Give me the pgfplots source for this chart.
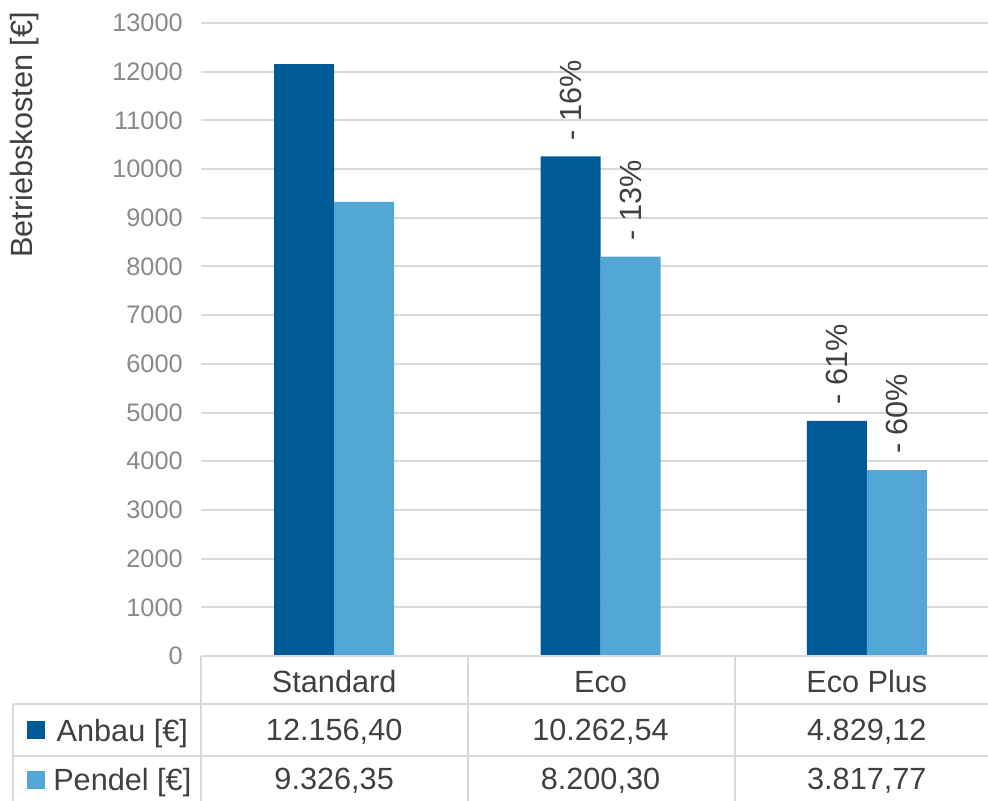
\documentclass[border=0pt]{standalone}
\usepackage{fontspec}
\setmainfont{Liberation Sans}
\usepackage{pgfplots}
\usepackage{pgfplotstable}
\pgfplotsset{compat=1.18}

\definecolor{anbau}{HTML}{005A96}
\definecolor{pendel}{HTML}{52A7D6}
\definecolor{gridgray}{HTML}{D9D9D9}
\definecolor{ticktext}{HTML}{898989}
\definecolor{darktext}{HTML}{404040}

\newcommand\tabfont{\fontsize{23}{27.6}\selectfont}
\newcommand\tickfont{\fontsize{19}{23}\selectfont}

% Betriebskosten je Variante, mit Einsparung gegenueber Standard
\pgfplotstableread{
x anbau    pendel  lanbau     lpendel
0 12156.40 9326.35 {}         {}
1 10262.54 8200.30 {- 16\%}   {- 13\%}
2 4829.12  3817.77 {- 61\%}   {- 60\%}
}\kosten

\pgfplotstablegetelem{0}{anbau}\of\kosten \let\aA\pgfplotsretval
\pgfplotstablegetelem{1}{anbau}\of\kosten \let\aB\pgfplotsretval
\pgfplotstablegetelem{2}{anbau}\of\kosten \let\aC\pgfplotsretval
\pgfplotstablegetelem{0}{pendel}\of\kosten \let\pA\pgfplotsretval
\pgfplotstablegetelem{1}{pendel}\of\kosten \let\pB\pgfplotsretval
\pgfplotstablegetelem{2}{pendel}\of\kosten \let\pC\pgfplotsretval

\newcommand\euro[1]{\pgfmathprintnumber[fixed,fixed zerofill,precision=2,use comma]{#1}}

\begin{document}
\begin{tikzpicture}
\useasboundingbox (-150.75pt,-108pt) rectangle (590.25pt,492pt);
\clip (-150.75pt,-108pt) rectangle (590.25pt,492pt);
\begin{axis}[
  scale only axis,
  width=599.25pt, height=474.75pt,
  xmin=-0.5, xmax=2.5, ymin=0, ymax=13000,
  ybar=0pt, bar width=45pt,
  axis line style={draw=none},
  tick style={draw=none},
  major tick length=0pt,
  ytick distance=1000,
  ymajorgrids,
  grid style={gridgray, line width=1.5pt},
  xtick={0,1,2},
  xticklabels={Standard,Eco,Eco Plus},
  xticklabel style={anchor=base, yshift=-27pt, font=\tabfont, text=darktext},
  yticklabel style={anchor=east, inner sep=0pt, xshift=-13.5pt, font=\tickfont, text=ticktext},
  scaled y ticks=false,
  /pgf/number format/assume math mode=true,
  /pgf/number format/1000 sep={},
  ylabel={Betriebskosten [€]},
  ylabel style={at={(axis description cs:-0.2203,1.0174)}, anchor=east, inner sep=0pt, font=\tabfont, text=darktext},
  point meta=explicit symbolic,
  nodes near coords,
  nodes near coords style={rotate=90, anchor=west, inner sep=0pt, inner xsep=12pt, font=\tabfont, text=darktext},
  legend style={at={(axis description cs:-0.21777,-0.08531)}, anchor=north west,
    draw=none, fill=none, inner sep=0pt, row sep=7.1pt, column sep=6pt,
    nodes={inner sep=0pt, text height=23.23pt, text depth=6.77pt, font=\tabfont, text=darktext}},
  legend cell align=center,
  legend image code/.code={\fill[#1] (0pt,-6.75pt) rectangle (13.5pt,6.75pt);},
  clip=false,
]
\addplot[fill=anbau, draw=none] table[x=x, y=anbau, meta=lanbau] {\kosten};
\addlegendentry{Anbau [€]}
\addplot[fill=pendel, draw=none] table[x=x, y=pendel, meta=lpendel] {\kosten};
\addlegendentry{Pendel [€]}

% Werte der Datentabelle
\node[anchor=base, font=\tabfont, text=darktext] at ([yshift=-63pt]axis cs:0,0) {\euro{\aA}};
\node[anchor=base, font=\tabfont, text=darktext] at ([yshift=-63pt]axis cs:1,0) {\euro{\aB}};
\node[anchor=base, font=\tabfont, text=darktext] at ([yshift=-63pt]axis cs:2,0) {\euro{\aC}};
\node[anchor=base, font=\tabfont, text=darktext] at ([yshift=-99.75pt]axis cs:0,0) {\euro{\pA}};
\node[anchor=base, font=\tabfont, text=darktext] at ([yshift=-99.75pt]axis cs:1,0) {\euro{\pB}};
\node[anchor=base, font=\tabfont, text=darktext] at ([yshift=-99.75pt]axis cs:2,0) {\euro{\pC}};
\end{axis}

% Rahmenlinien der Datentabelle
\begin{scope}[x=0.75pt, y=0.75pt, gridgray, line width=1.5pt]
  \draw (0,0) -- (799,0);
  \draw (-188,-48) -- (799,-48);
  \draw (-188,-100) -- (799,-100);
  \draw (-188,-150) -- (799,-150);
  \draw (-188,-48) -- (-188,-150);
  \foreach \x in {0,267,534,799} \draw (\x,0) -- (\x,-150);
\end{scope}
\end{tikzpicture}
\end{document}
